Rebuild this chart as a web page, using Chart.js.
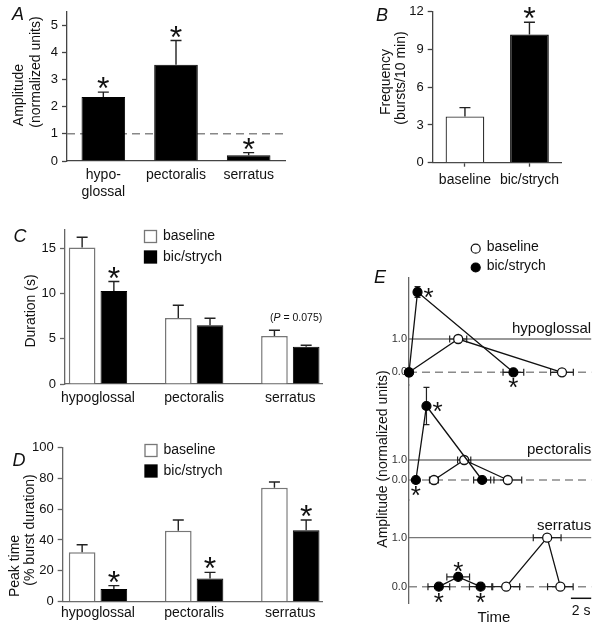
<!DOCTYPE html>
<html>
<head>
<meta charset="utf-8">
<script src="https://cdn.jsdelivr.net/npm/chart.js@4/dist/chart.umd.min.js"></script>
<style>
  html, body { margin: 0; padding: 0; background: #fff; }
  #wrap { position: relative; width: 597px; height: 629px; overflow: hidden; }
  #wrap canvas { position: absolute; left: 0; top: 0; }
</style>
</head>
<body>
<div id="wrap">
  <canvas id="chartA" width="597" height="629"></canvas>
  <canvas id="chartB" width="597" height="629"></canvas>
  <canvas id="chartC" width="597" height="629"></canvas>
  <canvas id="chartD" width="597" height="629"></canvas>
  <canvas id="chartE1" width="597" height="629"></canvas>
  <canvas id="chartE2" width="597" height="629"></canvas>
  <canvas id="chartE3" width="597" height="629"></canvas>
</div>
<script>
// ---------- data ----------
const muscles = ["hypoglossal", "pectoralis", "serratus"];

// A: amplitude (normalized units)
const ampLabels = [["hypo-", "glossal"], "pectoralis", "serratus"];
const ampMean = [2.36, 3.55, 0.21];
const ampSem = [0.18, 0.89, 0.10];
const ampSig = [true, true, true];
const ampTicks = [0, 1, 2, 3, 4, 5];

// B: burst frequency (bursts/10 min)
const freqGroups = ["baseline", "bic/strych"];
const freqMean = [3.68, 10.2];
const freqSem = [0.70, 0.97];
const freqSig = [false, true];
const freqTicks = [0, 3, 6, 9, 12];

// C: burst duration (s)
const durBase = [15.08, 7.29, 5.30];
const durBaseSem = [1.12, 1.41, 0.63];
const durBic = [10.28, 6.48, 4.12];
const durBicSem = [1.03, 0.78, 0.15];
const durBicSig = [true, false, false];
const durTicks = [0, 5, 10, 15];

// D: peak time (% burst duration)
const peakBase = [32.0, 46.0, 73.8];
const peakBaseSem = [4.9, 6.9, 3.7];
const peakBic = [8.2, 15.1, 46.2];
const peakBicSem = [2.2, 3.9, 6.7];
const peakBicSig = [true, true, true];
const peakTicks = [0, 20, 40, 60, 80, 100];

// E: start / peak / end of the averaged burst (time in s, amplitude normalized)
const traceTicks = [0, 1];

const hypoBicT = [0, 0.84, 10.29];
const hypoBicTErr = [0, 0, 1.02];
const hypoBicAmp = [0, 2.41, 0];
const hypoBicAmpErr = [0, 0.16, 0];
const hypoBicStar = ["", "right", "below"];
const hypoBaseT = [0, 4.85, 15.08];
const hypoBaseTErr = [0, 0.84, 1.12];
const hypoBaseAmp = [0, 1, 0];

const pectBicT = [0.68, 1.72, 7.21];
const pectBicTErr = [0, 0, 0.84];
const pectBicAmp = [0, 3.7, 0];
const pectBicAmpErr = [0, 0.93, 0];
const pectBicStar = ["below", "right", ""];
const pectBaseT = [2.46, 5.44, 9.74];
const pectBaseTErr = [0.44, 0.65, 1.37];
const pectBaseAmp = [0, 1, 0];

const serBicT = [2.94, 4.85, 7.06];
const serBicTErr = [1.07, 1.12, 1.10];
const serBicAmp = [0, 0.2, 0];
const serBicAmpErr = [0, 0.04, 0];
const serBicStar = ["below", "above", "below"];
const serBaseT = [9.58, 13.62, 14.92];
const serBaseTErr = [1.33, 1.37, 1.26];
const serBaseAmp = [0, 1, 0];

// ---------- setup ----------
const PAGE_W = 597, PAGE_H = 629;
const FONT = "'Liberation Sans', Arial, Helvetica, sans-serif";
Chart.defaults.font.family = FONT;
Chart.defaults.font.size = 13;
Chart.defaults.color = "#111";
Chart.defaults.animation = false;
Chart.defaults.responsive = false;
Chart.defaults.plugins.legend.display = false;
Chart.defaults.plugins.tooltip.enabled = false;

// padding that puts the chart area at page coords
function pad(l, t, r, b, yw, xh) {
    return { left: l - yw, top: t, right: PAGE_W - r, bottom: PAGE_H - b - xh };
}

function text(ctx, str, x, y, o = {}) {
    ctx.save();
    ctx.font = (o.style || "") + " " + (o.size || 14) + "px " + FONT;
    ctx.fillStyle = o.color || "#111";
    ctx.textAlign = o.align || "center";
    ctx.textBaseline = o.baseline || "middle";
    ctx.translate(x, y);
    if (o.rotate) ctx.rotate(o.rotate);
    ctx.fillText(str, 0, 0);
    ctx.restore();
}

function star(ctx, x, y, size) {
    ctx.save();
    ctx.font = size + "px " + FONT;
    ctx.fillStyle = "#111";
    ctx.textAlign = "center";
    ctx.textBaseline = "alphabetic";
    const m = ctx.measureText("*");
    ctx.fillText("*", x, y + (m.actualBoundingBoxAscent - m.actualBoundingBoxDescent) / 2);
    ctx.restore();
}

const UP = -Math.PI / 2;

function yAxis(min, max, ticks, width, color) {
    return {
        min, max,
        afterBuildTicks: s => { s.ticks = ticks.map(v => ({ value: v })); },
        afterFit: s => { s.width = width; },
        grid: { drawOnChartArea: false, tickLength: 5, color: color, tickWidth: 1.3 },
        border: { color: color, width: 1.3 },
        ticks: { padding: 4, font: { size: 13 }, color: "#111" },
    };
}

// error bars (up only) + significance stars on bar charts
const barExtras = {
    id: "barExtras",
    afterDatasetsDraw(chart) {
        const ctx = chart.ctx, ys = chart.scales.y;
        chart.data.datasets.forEach((ds, i) => {
            const meta = chart.getDatasetMeta(i);
            meta.data.forEach((bar, j) => {
                const v = meta.controller.getParsed(j).y;
                const top = ys.getPixelForValue(v + ds.err[j]);
                ctx.save();
                ctx.strokeStyle = "#222";
                ctx.lineWidth = 1.4;
                ctx.beginPath();
                ctx.moveTo(bar.x, bar.y);
                ctx.lineTo(bar.x, top);
                ctx.moveTo(bar.x - 5.5, top);
                ctx.lineTo(bar.x + 5.5, top);
                ctx.stroke();
                ctx.restore();
                if (ds.sig && ds.sig[j]) star(ctx, bar.x, top - 9, 32);
            });
        });
    },
};

function squareLegend(chart, x, y0) {
    const ctx = chart.ctx;
    chart.data.datasets.forEach((ds, i) => {
        const y = y0 + i * 20.5;
        ctx.save();
        ctx.fillStyle = ds.backgroundColor;
        ctx.strokeStyle = ds.borderColor;
        ctx.lineWidth = 1.3;
        ctx.fillRect(x, y, 12, 12);
        ctx.strokeRect(x, y, 12, 12);
        ctx.restore();
        text(ctx, ds.label, x + 18.5, y + 6, { align: "left", size: 14 });
    });
}

// ---------- A ----------
new Chart(document.getElementById("chartA"), {
    type: "bar",
    data: {
        labels: ampLabels,
        datasets: [{
            data: ampMean, err: ampSem, sig: ampSig,
            backgroundColor: "#000", borderColor: "#000", borderWidth: 1,
            barPercentage: 0.6, categoryPercentage: 1,
        }],
    },
    options: {
        layout: { padding: pad(67, 7, 285, 161, 40, 40) },
        scales: {
            x: {
                grid: { display: false, drawTicks: false },
                border: { color: "#444", width: 1.3 },
                ticks: { padding: 6, font: { size: 14 }, color: "#111", maxRotation: 0, autoSkip: false },
                afterFit: s => { s.height = 40; },
            },
            y: yAxis(0, 5.5, ampTicks, 40, "#444"),
        },
    },
    plugins: [barExtras, {
        id: "decorA",
        beforeDatasetsDraw(chart) {
            const { ctx, chartArea: a } = chart;
            const y1 = chart.scales.y.getPixelForValue(1);
            ctx.save();
            ctx.strokeStyle = "#888";
            ctx.lineWidth = 1.5;
            ctx.setLineDash([8, 5]);
            ctx.beginPath();
            ctx.moveTo(a.left, y1);
            ctx.lineTo(a.right, y1);
            ctx.stroke();
            ctx.restore();
        },
        afterDraw(chart) {
            const ctx = chart.ctx;
            text(ctx, "A", 18, 15, { style: "italic", size: 18 });
            text(ctx, "Amplitude", 19, 95, { rotate: UP });
            text(ctx, "(normalized units)", 36, 72, { rotate: UP });
        },
    }],
});

// ---------- B ----------
new Chart(document.getElementById("chartB"), {
    type: "bar",
    data: {
        labels: freqGroups,
        datasets: [{
            data: freqMean, err: freqSem, sig: freqSig,
            backgroundColor: ["#fff", "#000"], borderColor: ["#333", "#000"], borderWidth: 1.3,
            barPercentage: 0.6, categoryPercentage: 1,
        }],
    },
    options: {
        layout: { padding: pad(432.7, 9.3, 561.7, 162.7, 40, 40) },
        scales: {
            x: {
                grid: { display: true, drawOnChartArea: false, offset: false, tickLength: 4, color: "#444", tickWidth: 1.3 },
                border: { color: "#444", width: 1.3 },
                ticks: { padding: 5, font: { size: 14 }, color: "#111", maxRotation: 0, autoSkip: false },
                afterFit: s => { s.height = 40; },
            },
            y: yAxis(0, 12, freqTicks, 40, "#444"),
        },
    },
    plugins: [barExtras, {
        id: "decorB",
        afterDraw(chart) {
            const ctx = chart.ctx;
            text(ctx, "B", 382, 16, { style: "italic", size: 18 });
            text(ctx, "Frequency", 386, 82, { rotate: UP });
            text(ctx, "(bursts/10 min)", 401, 78, { rotate: UP });
        },
    }],
});

// ---------- C & D (grouped bars on a linear index axis) ----------
function groupedConfig(area, yMin, yMax, yTicks, base, baseErr, bic, bicErr, bicSig, labelPad, decor) {
    const xMin = -(98 - area[0]) / 96.15;
    return {
        type: "bar",
        data: {
            datasets: [
                {
                    label: "baseline", data: base.map((v, i) => ({ x: i, y: v })), err: baseErr,
                    backgroundColor: "#fff", borderColor: "#777", borderWidth: 1.5,
                },
                {
                    label: "bic/strych", data: bic.map((v, i) => ({ x: i, y: v })), err: bicErr, sig: bicSig,
                    backgroundColor: "#000", borderColor: "#000", borderWidth: 1,
                },
            ],
        },
        options: {
            datasets: { bar: { categoryPercentage: 0.66, barPercentage: 0.84 } },
            layout: { padding: pad(area[0], area[1], area[2], area[3], 40, 40) },
            scales: {
                x: {
                    type: "linear", min: xMin, max: 2.337, offset: false,
                    afterBuildTicks: s => { s.ticks = muscles.map((m, i) => ({ value: i })); },
                    grid: { display: false, drawTicks: false },
                    border: { color: "#666", width: 1.3 },
                    ticks: { padding: labelPad, font: { size: 14 }, color: "#111", maxRotation: 0, callback: v => muscles[v] },
                    afterFit: s => { s.height = 40; },
                },
                y: yAxis(yMin, yMax, yTicks, 40, "#666"),
            },
        },
        plugins: [barExtras, decor],
    };
}

new Chart(document.getElementById("chartC"),
    groupedConfig([65, 230, 322.7, 384], 0, 17, durTicks, durBase, durBaseSem, durBic, durBicSem, durBicSig, 6, {
        id: "decorC",
        afterDraw(chart) {
            const ctx = chart.ctx;
            text(ctx, "C", 20, 237, { style: "italic", size: 18 });
            text(ctx, "Duration (s)", 31, 311, { rotate: UP });
            squareLegend(chart, 144.5, 230.5);
            // p value above serratus pair
            ctx.save();
            ctx.font = "10.5px " + FONT;
            const w1 = ctx.measureText("(").width;
            ctx.font = "italic 10.5px " + FONT;
            const w2 = ctx.measureText("P").width;
            ctx.restore();
            text(ctx, "(", 270, 318, { align: "left", size: 10.5 });
            text(ctx, "P", 270 + w1, 318, { align: "left", size: 10.5, style: "italic" });
            text(ctx, " = 0.075)", 270 + w1 + w2, 318, { align: "left", size: 10.5 });
        },
    }));

new Chart(document.getElementById("chartD"),
    groupedConfig([62.7, 447.3, 322.7, 601.7], 0, 100, peakTicks, peakBase, peakBaseSem, peakBic, peakBicSem, peakBicSig, 3, {
        id: "decorD",
        afterDraw(chart) {
            const ctx = chart.ctx;
            text(ctx, "D", 19, 461, { style: "italic", size: 18 });
            text(ctx, "Peak time", 15, 566, { rotate: UP });
            text(ctx, "(% burst duration)", 30, 530, { rotate: UP });
            squareLegend(chart, 145, 444.5);
        },
    }));

// ---------- E (three stacked traces) ----------
const traceExtras = {
    id: "traceExtras",
    beforeDatasetsDraw(chart) {
        const { ctx, chartArea: a, scales: { x, y } } = chart;
        ctx.save();
        ctx.strokeStyle = "#777";
        ctx.lineWidth = 1.3;
        ctx.beginPath();
        ctx.moveTo(a.left, y.getPixelForValue(1));
        ctx.lineTo(a.right, y.getPixelForValue(1));
        ctx.stroke();
        ctx.strokeStyle = "#8a8a8a";
        ctx.lineWidth = 1.6;
        ctx.setLineDash([8, 5]);
        ctx.beginPath();
        ctx.moveTo(a.left, y.getPixelForValue(0));
        ctx.lineTo(a.right, y.getPixelForValue(0));
        ctx.stroke();
        ctx.setLineDash([]);
        ctx.strokeStyle = "#222";
        ctx.lineWidth = 1.2;
        chart.data.datasets.forEach((ds, i) => {
            const meta = chart.getDatasetMeta(i);
            meta.data.forEach((pt, j) => {
                const p = meta.controller.getParsed(j);
                const xe = ds.xErr[j], ye = ds.yErr ? ds.yErr[j] : 0;
                ctx.beginPath();
                if (xe) {
                    const x0 = x.getPixelForValue(p.x - xe), x1 = x.getPixelForValue(p.x + xe);
                    ctx.moveTo(x0, pt.y); ctx.lineTo(x1, pt.y);
                    ctx.moveTo(x0, pt.y - 3.5); ctx.lineTo(x0, pt.y + 3.5);
                    ctx.moveTo(x1, pt.y - 3.5); ctx.lineTo(x1, pt.y + 3.5);
                }
                if (ye) {
                    const y0 = y.getPixelForValue(p.y - ye), y1 = y.getPixelForValue(p.y + ye);
                    ctx.moveTo(pt.x, y0); ctx.lineTo(pt.x, y1);
                    ctx.moveTo(pt.x - 3, y0); ctx.lineTo(pt.x + 3, y0);
                    ctx.moveTo(pt.x - 3, y1); ctx.lineTo(pt.x + 3, y1);
                }
                ctx.stroke();
            });
        });
        ctx.restore();
    },
    afterDatasetsDraw(chart, args, opts) {
        const { ctx, chartArea: a, scales: { y } } = chart;
        chart.data.datasets.forEach((ds, i) => {
            if (!ds.stars) return;
            chart.getDatasetMeta(i).data.forEach((pt, j) => {
                const s = ds.stars[j];
                if (s === "right") star(ctx, pt.x + 11, pt.y + 1, 26);
                if (s === "below") star(ctx, pt.x, pt.y + 11, 26);
                if (s === "above") star(ctx, pt.x, pt.y - 10, 26);
            });
        });
        text(ctx, opts.name, a.right, y.getPixelForValue(1) - opts.gap, { align: "right", baseline: "alphabetic", size: 15 });
    },
};

function traceConfig(area, yMin, yMax, bicT, bicTErr, bicAmp, bicAmpErr, bicStar, baseT, baseTErr, baseAmp, name, gap, decor) {
    const plugins = [traceExtras];
    if (decor) plugins.push(decor);
    return {
        type: "line",
        data: {
            datasets: [
                {
                    label: "bic/strych",
                    data: bicT.map((t, i) => ({ x: t, y: bicAmp[i] })),
                    xErr: bicTErr, yErr: bicAmpErr, stars: bicStar,
                    borderColor: "#111", borderWidth: 1.3, tension: 0, clip: false,
                    pointRadius: 4.5, pointBackgroundColor: "#000", pointBorderColor: "#000", pointBorderWidth: 1.2,
                },
                {
                    label: "baseline",
                    data: baseT.map((t, i) => ({ x: t, y: baseAmp[i] })),
                    xErr: baseTErr,
                    borderColor: "#111", borderWidth: 1.3, tension: 0, clip: false,
                    pointRadius: 4.5, pointBackgroundColor: "#fff", pointBorderColor: "#111", pointBorderWidth: 1.3,
                },
            ],
        },
        options: {
            layout: { padding: pad(area[0], area[1], area[2], area[3], 30, 0) },
            scales: {
                x: { type: "linear", min: 0, max: 17.96, display: false },
                y: {
                    min: yMin, max: yMax,
                    afterBuildTicks: s => { s.ticks = traceTicks.map(v => ({ value: v })); },
                    afterFit: s => { s.width = 30; },
                    grid: { display: false, drawTicks: false },
                    border: { color: "#666", width: 1.3 },
                    ticks: { padding: 2, font: { size: 11 }, color: "#333", callback: v => v.toFixed(1) },
                },
            },
            plugins: { traceExtras: { name, gap } },
        },
        plugins,
    };
}

new Chart(document.getElementById("chartE1"),
    traceConfig([409, 277.3, 594, 385], -0.381, 2.853,
        hypoBicT, hypoBicTErr, hypoBicAmp, hypoBicAmpErr, hypoBicStar,
        hypoBaseT, hypoBaseTErr, hypoBaseAmp, "hypoglossal", 6, {
            id: "decorE1",
            afterDraw(chart) {
                const ctx = chart.ctx;
                text(ctx, "E", 380, 278, { style: "italic", size: 18 });
                const ds = chart.data.datasets;
                [[ds[1], 248.7], [ds[0], 267.5]].forEach(([d, y]) => {
                    ctx.save();
                    ctx.beginPath();
                    ctx.arc(475.7, y, 4.5, 0, Math.PI * 2);
                    ctx.fillStyle = d.pointBackgroundColor;
                    ctx.strokeStyle = d.pointBorderColor;
                    ctx.lineWidth = 1.2;
                    ctx.fill();
                    ctx.stroke();
                    ctx.restore();
                    text(ctx, d.label, 486.7, y - 1.5, { align: "left", size: 14 });
                });
            },
        }));

new Chart(document.getElementById("chartE2"),
    traceConfig([409, 385, 594, 500], -1.0, 4.75,
        pectBicT, pectBicTErr, pectBicAmp, pectBicAmpErr, pectBicStar,
        pectBaseT, pectBaseTErr, pectBaseAmp, "pectoralis", 6, {
            id: "decorE2",
            afterDraw(chart) {
                text(chart.ctx, "Amplitude (normalized units)", 383, 459, { rotate: UP });
            },
        }));

new Chart(document.getElementById("chartE3"),
    traceConfig([409, 500, 594, 603], -0.333, 1.769,
        serBicT, serBicTErr, serBicAmp, serBicAmpErr, serBicStar,
        serBaseT, serBaseTErr, serBaseAmp, "serratus", 8, {
            id: "decorE3",
            afterDraw(chart) {
                const { ctx, chartArea: a, scales: { x } } = chart;
                const len = x.getPixelForValue(2) - x.getPixelForValue(0);
                ctx.save();
                ctx.strokeStyle = "#111";
                ctx.lineWidth = 1.5;
                ctx.beginPath();
                ctx.moveTo(a.right - len, 598.3);
                ctx.lineTo(a.right, 598.3);
                ctx.stroke();
                ctx.restore();
                text(ctx, "2 s", a.right - len / 2, 611, { size: 14 });
                text(ctx, "Time", 494, 618, { size: 15 });
            },
        }));
</script>
</body>
</html>
